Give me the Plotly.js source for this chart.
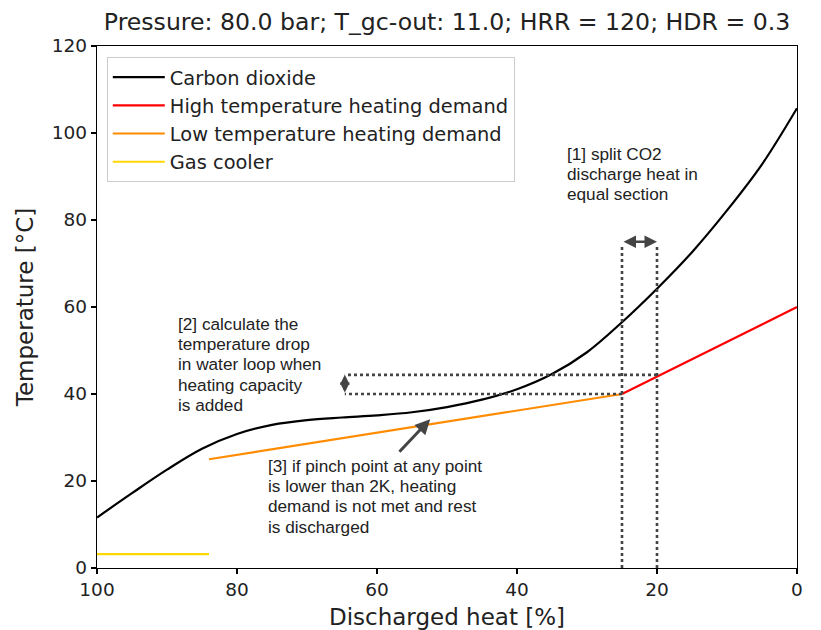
<!DOCTYPE html>
<html>
<head>
<meta charset="utf-8">
<script src="https://cdn.plot.ly/plotly-3.0.1.min.js"></script>
<style>html,body{margin:0;padding:0;background:#fff;}#chart{width:821px;height:630px;}</style>
</head>
<body>
<div id="chart"></div>
<script>
// ---- data ----
const co2Heat = [100,95,90,85,80,75,70,65,60,55,50,45,40,35,30,25,20,15,10,5,0];
const co2Temp = [11.6,17.2,22.6,27.4,30.8,32.9,34.0,34.6,35.1,35.8,37.0,38.7,41.1,44.6,49.6,56.5,64.2,72.6,82.2,92.8,105.7];
const htHeat = [25, 0];
const htTemp = [40, 60];
const ltHeat = [84, 25];
const ltTemp = [25, 40];
const gcHeat = [100, 84];
const gcTemp = [3.2, 3.2];
const seriesNames = ["Carbon dioxide","High temperature heating demand","Low temperature heating demand","Gas cooler"];
const xTicks = [100,80,60,40,20,0];
const yTicks = [0,20,40,60,80,100,120];
// guide (annotation) values
const splitHeat = [25, 20];          // [1] split sections
const splitTop = 74.5;
const arrowSplitTemp = 75;
const dropTemp = [40, 44.4];         // [2] temperature drop
const dropLeftHeat = 64.6;
const pinchTail = [57, 26.4];        // [3] arrow tail
const pinchHead = [52.4, 34.2];      // [3] arrow head
const note1Lines = ["[1] split CO2", "discharge heat in", "equal section"];
const note2Lines = ["[2] calculate the", "temperature drop", "in water loop when", "heating capacity", "is added"];
const note3Lines = ["[3] if pinch point at any point", "is lower than 2K, heating", "demand is not met and rest", "is discharged"];
const note1Pos = [33.0, 95.2];   // left heat, first-line temperature
const note2Pos = [88.6, 56.1];
const note3Pos = [75.7, 23.45];
const noteLineStep = 4.65;        // temperature units between text lines

const colors = ["#000000", "#ff0000", "#ff8c00", "#ffd700"];
const lw = 2.2;
const traces = [
  {x: co2Heat, y: co2Temp, name: seriesNames[0], mode: "lines", line: {color: colors[0], width: lw, shape: "spline", smoothing: 1}, legendgroup: "a"},
  {x: htHeat, y: htTemp, name: seriesNames[1], mode: "lines", line: {color: colors[1], width: lw}, legendgroup: "b"},
  {x: ltHeat, y: ltTemp, name: seriesNames[2], mode: "lines", line: {color: colors[2], width: lw}, legendgroup: "c"},
  {x: gcHeat, y: gcTemp, name: seriesNames[3], mode: "lines", line: {color: colors[3], width: lw}, legendgroup: "d"}
];

const dotLine = {color: "#444444", width: 2.6, dash: "dot"};
const shapes = [];
splitHeat.forEach(h => shapes.push({type: "line", xref: "x", yref: "y", x0: h, x1: h, y0: 0, y1: splitTop, line: dotLine}));
shapes.push({type: "line", xref: "x", yref: "y", x0: splitHeat[0], x1: dropLeftHeat, y0: dropTemp[0], y1: dropTemp[0], line: dotLine});
shapes.push({type: "line", xref: "x", yref: "y", x0: splitHeat[1], x1: dropLeftHeat, y0: dropTemp[1], y1: dropTemp[1], line: dotLine});

const txtFont = {family: "Liberation Sans, Arial, sans-serif", size: 17.2, color: "#222222"};
const annotations = [
  {x: splitHeat[1], y: arrowSplitTemp, ax: splitHeat[0], ay: arrowSplitTemp, xref: "x", yref: "y", axref: "x", ayref: "y",
   text: "", showarrow: true, arrowside: "end+start", arrowhead: 2, arrowsize: 1, arrowwidth: 2.5, arrowcolor: "#444444", standoff: 0, startstandoff: 0},
  {x: dropLeftHeat, y: dropTemp[1], ax: dropLeftHeat, ay: dropTemp[0], xref: "x", yref: "y", axref: "x", ayref: "y",
   text: "", showarrow: true, arrowside: "end+start", arrowhead: 2, arrowsize: 0.8, arrowwidth: 2.5, arrowcolor: "#444444", standoff: 0, startstandoff: 0},
  {x: pinchHead[0], y: pinchHead[1], ax: pinchTail[0], ay: pinchTail[1], xref: "x", yref: "y", axref: "x", ayref: "y",
   text: "", showarrow: true, arrowhead: 2, arrowsize: 1, arrowwidth: 3, arrowcolor: "#444444", standoff: 0}
];
[[note1Lines, note1Pos], [note2Lines, note2Pos], [note3Lines, note3Pos]].forEach(([lines, pos]) => {
  lines.forEach((t, i) => annotations.push({x: pos[0], y: pos[1] - i * noteLineStep, xref: "x", yref: "y", text: t, showarrow: false,
    xanchor: "left", yanchor: "middle", align: "left", font: txtFont, borderpad: 0}));
});

const axisFont = {family: "DejaVu Sans", size: 18.5, color: "#222222"};
const layout = {
  width: 821, height: 630,
  margin: {l: 97, r: 24, t: 46, b: 62, pad: 0},
  paper_bgcolor: "#ffffff", plot_bgcolor: "#ffffff",
  title: {text: "Pressure: 80.0 bar; T_gc-out: 11.0; HRR = 120; HDR = 0.3", font: {family: "DejaVu Sans", size: 23.6, color: "#222222"},
          x: 0.5, xref: "paper", y: 1 - 22/630, yref: "container", yanchor: "middle"},
  xaxis: {range: [100, 0], tickvals: xTicks, ticktext: xTicks.map(String), ticks: "outside", ticklen: 5, tickwidth: 1.2, tickcolor: "#000",
          showline: true, linecolor: "#000", linewidth: 1.2, mirror: true, showgrid: false, zeroline: false, tickfont: axisFont,
          title: {text: "Discharged heat [%]", font: {family: "DejaVu Sans", size: 23, color: "#222222"}, standoff: 9}, automargin: false},
  yaxis: {range: [0, 120], tickvals: yTicks, ticktext: yTicks.map(String), ticks: "outside", ticklen: 5, tickwidth: 1.2, tickcolor: "#000",
          showline: true, linecolor: "#000", linewidth: 1.2, mirror: true, showgrid: false, zeroline: false, tickfont: axisFont,
          title: {text: "Temperature [°C]", font: {family: "DejaVu Sans", size: 23, color: "#222222"}, standoff: 11}, automargin: false},
  showlegend: true,
  legend: {x: 0.014, y: 0.979, xanchor: "left", yanchor: "top", bgcolor: "rgba(255,255,255,0.9)", bordercolor: "#cccccc", borderwidth: 1,
           font: {family: "DejaVu Sans", size: 19.4, color: "#222222"}, tracegroupgap: 1, traceorder: "normal", itemwidth: 52},
  shapes: shapes,
  annotations: annotations
};
Plotly.newPlot("chart", traces, layout, {displayModeBar: false, staticPlot: true});
</script>
</body>
</html>
